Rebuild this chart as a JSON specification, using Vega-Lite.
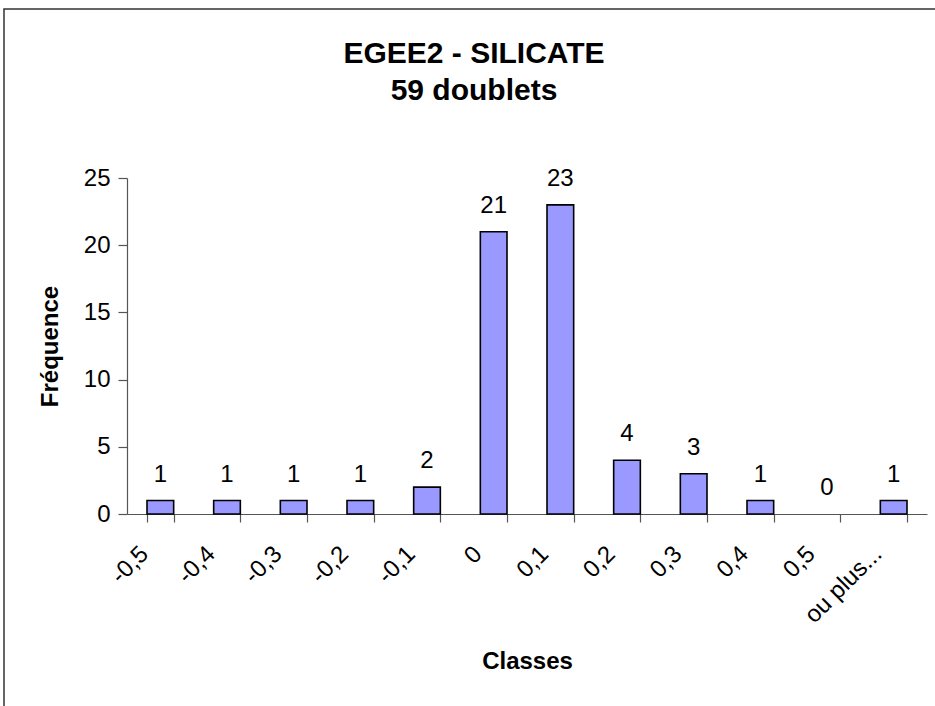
{
  "$schema": "https://vega.github.io/schema/vega-lite/v6.json",
  "autosize": {"type": "none"},
  "width": 940,
  "height": 705,
  "padding": {"left": 4, "top": 9, "right": 0, "bottom": 0},
  "background": "white",
  "title": {
    "text": ["EGEE2 - SILICATE", "59 doublets"],
    "font": "Liberation Sans",
    "fontSize": 30,
    "fontWeight": "bold",
    "color": "black",
    "lineHeight": 37,
    "anchor": "middle",
    "dx": 0,
    "offset": -97
  },
  "data": {
    "values": [
      {"classe": "-0,5", "freq": 1},
      {"classe": "-0,4", "freq": 1},
      {"classe": "-0,3", "freq": 1},
      {"classe": "-0,2", "freq": 1},
      {"classe": "-0,1", "freq": 2},
      {"classe": "0", "freq": 21},
      {"classe": "0,1", "freq": 23},
      {"classe": "0,2", "freq": 4},
      {"classe": "0,3", "freq": 3},
      {"classe": "0,4", "freq": 1},
      {"classe": "0,5", "freq": 0},
      {"classe": "ou plus...", "freq": 1}
    ]
  },
  "encoding": {
    "x": {
      "field": "classe",
      "type": "nominal",
      "sort": null,
      "scale": {
        "domain": ["-0,5", "-0,4", "-0,3", "-0,2", "-0,1", "0", "0,1", "0,2", "0,3", "0,4", "0,5", "ou plus..."],
        "paddingInner": 0.6, "paddingOuter": 0.3, "range": [123, 923]
      },
      "axis": {
        "offset": -200,
        "title": "Classes",
        "titleFont": "Liberation Sans",
        "titleFontSize": 24,
        "titleFontWeight": "bold",
        "titleColor": "black",
        "titleBaseline": "middle",
        "titleY": 147,
        "labelFont": "Liberation Sans",
        "labelFontSize": 24,
        "labelColor": "black",
        "labelAngle": -45,
        "labelAlign": "right",
        "labelBaseline": "middle",
        "labelOffset": -16,
        "labelPadding": 28,
        "tickBand": "extent",
        "tickSize": 8,
        "tickColor": "#555555",
        "tickWidth": 1.2,
        "domainColor": "#555555",
        "domainWidth": 1.2,
        "grid": false
      }
    },
    "y": {
      "field": "freq",
      "type": "quantitative",
      "scale": {"domain": [0, 25], "range": [505, 169]},
      "axis": {
        "offset": -123,
        "title": "Fréquence",
        "titleFont": "Liberation Sans",
        "titleFontSize": 24,
        "titleFontWeight": "bold",
        "titleColor": "black",
        "titlePadding": 21,
        "values": [0, 5, 10, 15, 20, 25],
        "labelFont": "Liberation Sans",
        "labelFontSize": 24,
        "labelColor": "black",
        "labelPadding": 8,
        "tickSize": 9,
        "tickColor": "#555555",
        "tickWidth": 1.2,
        "domainColor": "#555555",
        "domainWidth": 1.2,
        "grid": false
      }
    }
  },
  "layer": [
    {
      "transform": [{"filter": "datum.freq > 0"}],
      "mark": {"type": "bar", "color": "#9999FF", "stroke": "black", "strokeWidth": 1.6}
    },
    {
      "mark": {"type": "text", "font": "Liberation Sans", "fontSize": 24, "color": "black", "baseline": "alphabetic", "dy": -19},
      "encoding": {"text": {"field": "freq", "type": "quantitative"}}
    }
  ],
  "config": {"view": {"stroke": "#333333", "strokeWidth": 1.5, "fill": "white"}}
}
